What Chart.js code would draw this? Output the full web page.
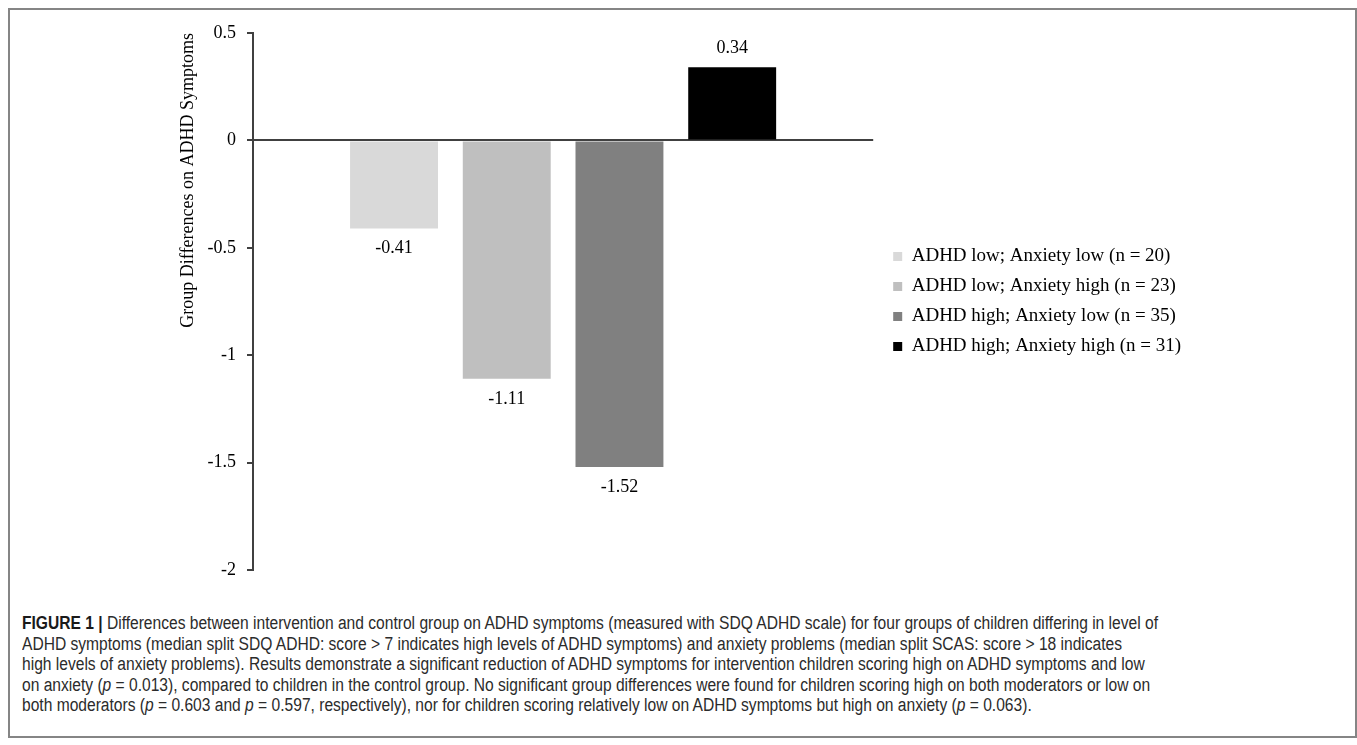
<!DOCTYPE html>
<html>
<head>
<meta charset="utf-8">
<script src="https://cdn.jsdelivr.net/npm/chart.js@4.4.1/dist/chart.umd.min.js"></script>
<style>
    body { margin: 0; background: #fff; width: 1357px; height: 745px; position: relative; overflow: hidden; }
    .frame { position: absolute; left: 8px; top: 8px; width: 1349px; height: 730px; box-sizing: border-box; border: 2px solid #858585; }
    #myChart { position: absolute; left: 0; top: 0; }
    .caption { position: absolute; left: 22px; top: 613px; font-family: 'Liberation Sans', Arial, sans-serif; font-size: 18px; line-height: 20.6px; color: #2b2b2b; white-space: nowrap; transform-origin: 0 0; }
    .caption b { color: #1a1a1a; }
</style>
</head>
<body>
<div class="frame"></div>
<canvas id="myChart" width="1357" height="600"></canvas>
<div class="caption" id="caption">
    <div id="firstLine"><b>FIGURE 1 |</b> Differences between intervention and control group on ADHD symptoms (measured with SDQ ADHD scale) for four groups of children differing in level of</div>
    <div>ADHD symptoms (median split SDQ ADHD: score &gt; 7 indicates high levels of ADHD symptoms) and anxiety problems (median split SCAS: score &gt; 18 indicates</div>
    <div>high levels of anxiety problems). Results demonstrate a significant reduction of ADHD symptoms for intervention children scoring high on ADHD symptoms and low</div>
    <div>on anxiety (<i>p</i> = 0.013), compared to children in the control group. No significant group differences were found for children scoring high on both moderators or low on</div>
    <div>both moderators (<i>p</i> = 0.603 and <i>p</i> = 0.597, respectively), nor for children scoring relatively low on ADHD symptoms but high on anxiety (<i>p</i> = 0.063).</div>
</div>
<script>
const groups = [
    'ADHD low; Anxiety low (n = 20)',
    'ADHD low; Anxiety high (n = 23)',
    'ADHD high; Anxiety low (n = 35)',
    'ADHD high; Anxiety high (n = 31)'
];
const differences = [-0.41, -1.11, -1.52, 0.34];
const barColors = ['#d9d9d9', '#bfbfbf', '#808080', '#000000'];
const yTicks = [0.5, 0, -0.5, -1, -1.5, -2];

const FONT = "'Liberation Serif', 'Times New Roman', serif";
const LEGEND_SIZE = 19;
const LEGEND_PAD = 11;

// the caption font is narrower than Liberation Sans, squeeze it to the same width
const caption = document.getElementById('caption');
const lineWidth = document.getElementById('firstLine').scrollWidth;
caption.style.transform = 'scaleX(' + (1136 / lineWidth) + ')';

Chart.defaults.font.family = FONT;
Chart.defaults.font.size = 18;
Chart.defaults.color = '#000';

const ctx = document.getElementById('myChart').getContext('2d');

// legend width as Chart.js fits it, so the right padding keeps the plot
// ending at the same place as the original
ctx.font = LEGEND_SIZE + 'px ' + FONT;
let longest = 0;
groups.forEach((g) => { longest = Math.max(longest, ctx.measureText(g).width) });
const legendWidth = 2 * LEGEND_PAD + 9 + LEGEND_SIZE / 2 + longest;
const rightPad = Math.max(0, Math.round(1357 - 881 - legendWidth));

// value printed at the end of each bar
const valueLabels = {
    id: 'valueLabels',
    afterDatasetsDraw(chart) {
        const c = chart.ctx;
        c.save();
        c.font = '18px ' + FONT;
        c.fillStyle = '#000';
        c.textAlign = 'center';
        c.textBaseline = 'middle';
        chart.data.datasets.forEach((ds, i) => {
            const bar = chart.getDatasetMeta(i).data[0];
            const v = ds.data[0];
            c.fillText(String(v), bar.x, v >= 0 ? bar.y - 19 : bar.y + 20);
        });
        c.restore();
    }
};

const datasets = [];
groups.map((label, i) => {
    datasets.push({
        label: label,
        data: [differences[i]],
        backgroundColor: barColors[i],
        borderWidth: 0,
        barPercentage: 0.78,
        categoryPercentage: 0.727
    });
});

const config = {
    type: 'bar',
    data: {
        labels: [''],
        datasets: datasets
    },
    options: {
        responsive: false,
        animation: false,
        layout: {
            padding: { left: 171, top: 33, bottom: 30, right: rightPad }
        },
        plugins: {
            legend: {
                position: 'right',
                align: 'center',
                maxWidth: 500,
                labels: {
                    boxWidth: 9,
                    boxHeight: 9,
                    padding: LEGEND_PAD,
                    color: '#000',
                    font: { size: LEGEND_SIZE }
                }
            },
            tooltip: { enabled: false }
        },
        scales: {
            x: {
                display: false
            },
            y: {
                min: -2,
                max: 0.5,
                afterFit: (scale) => { scale.width = 82 },
                afterBuildTicks: (scale) => {
                    scale.ticks = yTicks.map((v) => ({ value: v }))
                },
                ticks: {
                    padding: 11,
                    color: '#000',
                    font: { size: 18 },
                    callback: (v) => String(v)
                },
                grid: {
                    color: (c) => (c.tick && c.tick.value === 0 ? '#404040' : 'rgba(0,0,0,0)'),
                    lineWidth: 2,
                    tickColor: '#404040',
                    tickLength: 6,
                    tickWidth: 2
                },
                border: {
                    display: true,
                    color: '#404040',
                    width: 2
                },
                title: {
                    display: true,
                    text: 'Group Differences on ADHD Symptoms',
                    align: 'end',
                    color: '#000',
                    font: { size: 18 },
                    padding: { top: 6, bottom: 4 }
                }
            },
            // empty axis, only keeps the legend a little away from the bars
            gap: {
                type: 'linear',
                position: 'right',
                display: true,
                afterFit: (scale) => { scale.width = 9 },
                ticks: { display: false },
                grid: { display: false, drawTicks: false },
                border: { display: false }
            }
        }
    },
    plugins: [valueLabels]
};

const myChart = new Chart(ctx, config);
</script>
</body>
</html>
